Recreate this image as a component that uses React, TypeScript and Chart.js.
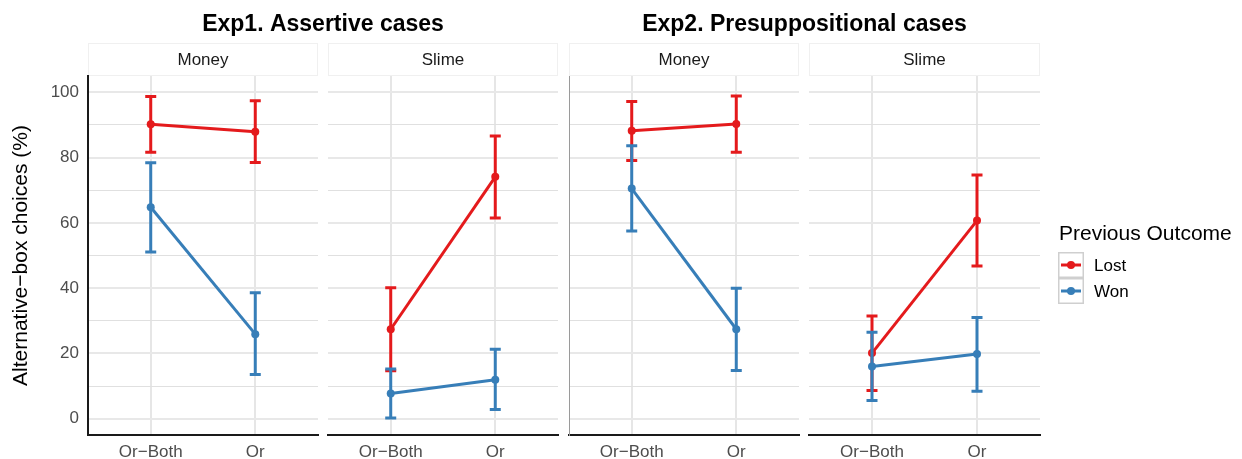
import React, { useEffect, useRef } from 'react';
import { Chart, registerables } from 'chart.js';

Chart.register(...registerables);

// ---------------- data ----------------
const categories = ['Or−Both', 'Or'];
const experimentTitles = ['Exp1. Assertive cases', 'Exp2. Presuppositional cases'];
const facetLabels = ['Money', 'Slime', 'Money', 'Slime'];
const seriesNames = ['Lost', 'Won'];
const yTickValues = [0, 10, 20, 30, 40, 50, 60, 70, 80, 90, 100];

// per panel: [Or−Both, Or]
const lostMean = [[90.2, 87.9], [27.4, 74.1], [88.2, 90.3], [20.1, 60.7]];
const lostLower = [[81.6, 78.5], [14.7, 61.5], [79.1, 81.6], [8.6, 46.8]];
const lostUpper = [[98.7, 97.4], [40.1, 86.6], [97.2, 98.9], [31.5, 74.7]];
const wonMean = [[64.8, 25.9], [7.7, 11.9], [70.5, 27.4], [16.0, 19.8]];
const wonLower = [[51.1, 13.5], [0.2, 2.8], [57.5, 14.8], [5.6, 8.4]];
const wonUpper = [[78.4, 38.6], [15.2, 21.3], [83.6, 40.0], [26.5, 31.0]];

// ---------------- layout / style ----------------
const W = 1242;
const H = 459;
const FONT = '"Liberation Sans", Arial, Helvetica, sans-serif';
const PANEL_LEFT = [88, 328, 569, 809];
const PANEL_RIGHT = [318, 558, 799, 1040];
const STRIP_TOP = 43;
const PLOT_TOP = 76;
const PLOT_BOTTOM = 435;
const X_AXIS_H = 24;
const RED = '#E41A1C';
const BLUE = '#377EB8';
const TICK_COLOR = '#4D4D4D';

const errorBarPlugin = {
  id: 'errorBars',
  beforeDatasetDraw(chart: any, args: any) {
    const ds = chart.data.datasets[args.index];
    const { ctx } = chart;
    const x = chart.scales.x;
    const y = chart.scales.y;
    ctx.save();
    ctx.strokeStyle = ds.borderColor;
    ctx.lineWidth = 3;
    ctx.lineCap = 'butt';
    ds.data.forEach((p: any) => {
      const px = x.getPixelForValue(p.x);
      const yl = y.getPixelForValue(p.lo);
      const yh = y.getPixelForValue(p.hi);
      ctx.beginPath();
      ctx.moveTo(px, yl);
      ctx.lineTo(px, yh);
      ctx.moveTo(px - 5.5, yl);
      ctx.lineTo(px + 5.5, yl);
      ctx.moveTo(px - 5.5, yh);
      ctx.lineTo(px + 5.5, yh);
      ctx.stroke();
    });
    ctx.restore();
  },
};

function makeFacetPlugin(i: number) {
  return {
    id: 'facet' + i,
    beforeDraw(chart: any) {
      const { ctx, chartArea: a } = chart;
      ctx.save();
      ctx.fillStyle = '#ffffff';
      ctx.fillRect(a.left, STRIP_TOP, a.right - a.left, a.top - STRIP_TOP);
      ctx.strokeStyle = '#f0f0f0';
      ctx.lineWidth = 1;
      ctx.strokeRect(a.left + 0.5, STRIP_TOP + 0.5, a.right - a.left - 1, a.top - STRIP_TOP - 1);
      ctx.fillStyle = '#1a1a1a';
      ctx.font = `17px ${FONT}`;
      ctx.textAlign = 'center';
      ctx.textBaseline = 'middle';
      ctx.fillText(facetLabels[i], (a.left + a.right) / 2, (STRIP_TOP + a.top) / 2 + 1);
      if (i % 2 === 0) {
        const e = i / 2;
        const cx = (PANEL_LEFT[i] + PANEL_RIGHT[i + 1]) / 2;
        ctx.font = `bold 23px ${FONT}`;
        ctx.fillStyle = '#000000';
        ctx.textBaseline = 'alphabetic';
        ctx.fillText(experimentTitles[e], cx, 31);
      }
      ctx.restore();
    },
    afterDraw(chart: any) {
      if (i !== 3) return;
      const { ctx } = chart;
      ctx.save();
      ctx.fillStyle = '#000000';
      ctx.font = `21px ${FONT}`;
      ctx.textAlign = 'left';
      ctx.textBaseline = 'alphabetic';
      ctx.fillText('Previous Outcome', 1059, 240);
      const sorted = [...chart.data.datasets];
      sorted.forEach((ds: any, k: number) => {
        const top = 252 + k * 26;
        ctx.fillStyle = '#ffffff';
        ctx.fillRect(1058, top, 26, 26);
        ctx.strokeStyle = '#cfcfcf';
        ctx.lineWidth = 1.5;
        ctx.strokeRect(1058.75, top + 0.75, 24.5, 24.5);
        const cy = top + 13;
        ctx.strokeStyle = ds.borderColor;
        ctx.lineWidth = 3;
        ctx.beginPath();
        ctx.moveTo(1061, cy);
        ctx.lineTo(1081, cy);
        ctx.stroke();
        ctx.fillStyle = ds.borderColor;
        ctx.beginPath();
        ctx.arc(1071, cy, 4, 0, Math.PI * 2);
        ctx.fill();
        ctx.fillStyle = '#000000';
        ctx.font = `17px ${FONT}`;
        ctx.textBaseline = 'middle';
        ctx.fillText(ds.label, 1094, cy + 1);
      });
      ctx.restore();
    },
  };
}

function buildConfig(i: number): any {
  const toPoints = (mean: number[], lo: number[], hi: number[]) =>
    categories.map((_, c) => ({ x: c + 1, y: mean[c], lo: lo[c], hi: hi[c] }));
  const first = i === 0;
  return {
    type: 'line',
    data: {
      datasets: [
        {
          label: seriesNames[0],
          data: toPoints(lostMean[i], lostLower[i], lostUpper[i]),
          borderColor: RED,
          backgroundColor: RED,
          pointBackgroundColor: RED,
          borderWidth: 3,
          pointRadius: 4,
          pointBorderWidth: 0,
          order: 1,
        },
        {
          label: seriesNames[1],
          data: toPoints(wonMean[i], wonLower[i], wonUpper[i]),
          borderColor: BLUE,
          backgroundColor: BLUE,
          pointBackgroundColor: BLUE,
          borderWidth: 3,
          pointRadius: 4,
          pointBorderWidth: 0,
          order: 0,
        },
      ],
    },
    options: {
      responsive: false,
      devicePixelRatio: 1,
      animation: false,
      events: [],
      layout: {
        padding: {
          left: first ? 0 : PANEL_LEFT[i],
          right: W - PANEL_RIGHT[i],
          top: PLOT_TOP,
          bottom: H - PLOT_BOTTOM - X_AXIS_H,
        },
      },
      plugins: { legend: { display: false }, tooltip: { enabled: false }, title: { display: false } },
      scales: {
        x: {
          type: 'linear',
          min: 0.4,
          max: 2.6,
          afterBuildTicks: (s: any) => {
            s.ticks = categories.map((_, c) => ({ value: c + 1 }));
          },
          afterFit: (s: any) => {
            s.height = X_AXIS_H;
          },
          ticks: {
            callback: (v: number) => categories[Math.round(v) - 1] ?? '',
            font: { size: 17, family: FONT },
            color: TICK_COLOR,
            padding: 7,
            maxRotation: 0,
            autoSkip: false,
          },
          grid: { color: '#e6e6e6', lineWidth: 2, drawTicks: false },
          border: { display: true, color: '#1a1a1a', width: 2 },
        },
        y: {
          type: 'linear',
          min: -5,
          max: 105,
          afterBuildTicks: (s: any) => {
            s.ticks = yTickValues.map((v) => ({ value: v }));
          },
          afterFit: (s: any) => {
            s.width = first ? PANEL_LEFT[0] : 0;
          },
          ticks: {
            display: first,
            callback: (v: number) => (v % 20 === 0 ? String(v) : ''),
            font: { size: 17, family: FONT },
            color: TICK_COLOR,
            padding: 9,
          },
          title: {
            display: first,
            text: 'Alternative−box choices (%)',
            font: { size: 21, family: FONT },
            color: '#000000',
            padding: { top: 9, bottom: 0 },
          },
          grid: {
            drawTicks: false,
            color: (c: any) => (c.tick && c.tick.value % 20 === 0 ? '#e8e8e8' : '#e0e0e0'),
            lineWidth: (c: any) => (c.tick && c.tick.value % 20 === 0 ? 2 : 1),
          },
          border: {
            display: i === 0 || i === 2,
            color: i === 0 ? '#1a1a1a' : '#9a9a9a',
            width: i === 0 ? 2 : 1,
          },
        },
      },
    },
    plugins: [errorBarPlugin, makeFacetPlugin(i)],
  };
}

export default function App() {
  const refs = [useRef<HTMLCanvasElement>(null), useRef<HTMLCanvasElement>(null), useRef<HTMLCanvasElement>(null), useRef<HTMLCanvasElement>(null)];

  useEffect(() => {
    const charts = refs.map((r, i) => new Chart(r.current as HTMLCanvasElement, buildConfig(i)));
    return () => charts.forEach((c) => c.destroy());
  }, []);

  return (
    <div style={{ position: 'fixed', left: 0, top: 0, width: W, height: H, background: '#ffffff' }}>
      {refs.map((r, i) => (
        <canvas
          key={i}
          ref={r}
          width={W}
          height={H}
          style={{ position: 'absolute', left: 0, top: 0, width: W, height: H }}
        />
      ))}
    </div>
  );
}
